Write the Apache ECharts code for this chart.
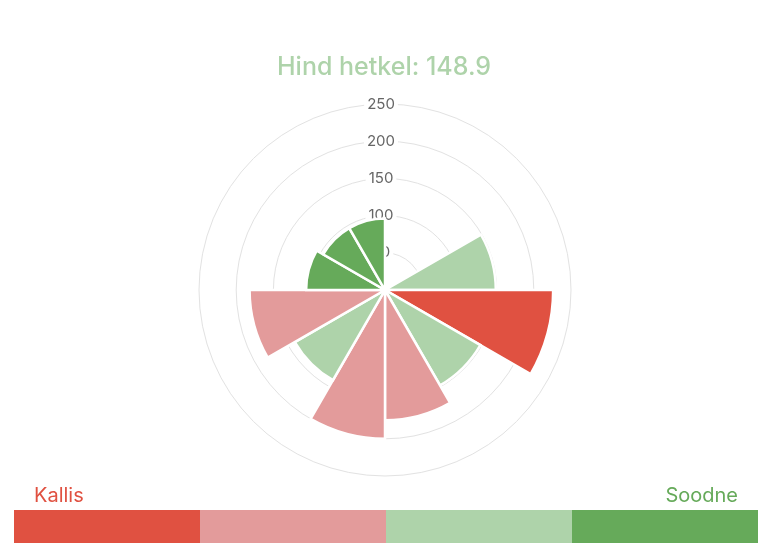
<!DOCTYPE html>
<html>
<head>
<meta charset="utf-8">
<script src="https://cdn.jsdelivr.net/npm/echarts@6/dist/echarts.min.js"></script>
<style>
  html, body { margin: 0; padding: 0; background: #fff; }
  #chart { width: 768px; height: 560px; }
</style>
</head>
<body>
<div id="chart"></div>
<script>
// ---- data ----
const hours = ['00', '01', '02', '03', '04', '05', '06', '07', '08', '09', '10', '11'];
const prices = [null, null, 148.9, 226, 148, 175, 200, 140, 182, 106, 96, 96];
const currentPrice = 148.9;
const radiusTicks = [0, 50, 100, 150, 200, 250];
const levelNames = ['Kallis', 'Soodne'];
const levelColors = ['#e05141', '#e39b9b', '#aed3aa', '#66aa5a'];
const levelBounds = [210, 150, 110]; // thresholds between colour levels

const FONT = 'Inter, "Liberation Sans", sans-serif';

const chart = echarts.init(document.getElementById('chart'), null, { renderer: 'canvas' });

const option = {
  backgroundColor: '#fff',
  animation: false,
  title: {
    text: 'Hind hetkel: ' + currentPrice,
    left: 'center',
    top: 50,
    textStyle: { color: levelColors[2], fontSize: 25, fontWeight: 500, fontFamily: FONT }
  },
  polar: {
    center: [385, 290],
    radius: 186
  },
  angleAxis: {
    type: 'category',
    data: hours,
    startAngle: 90,
    clockwise: true,
    axisLine: { show: false },
    axisTick: { show: false },
    axisLabel: { show: false },
    splitLine: { show: false }
  },
  radiusAxis: {
    type: 'value',
    min: radiusTicks[0],
    max: radiusTicks[radiusTicks.length - 1],
    interval: 50,
    axisLine: { show: false },
    axisTick: { show: false },
    splitLine: { show: true, lineStyle: { color: '#e2e2e2', width: 1 } },
    axisLabel: {
      color: '#666',
      fontSize: 15,
      fontFamily: FONT,
      align: 'center',
      verticalAlign: 'middle',
      margin: 4,
      backgroundColor: '#fff',
      padding: [0, 3]
    }
  },
  visualMap: {
    type: 'piecewise',
    orient: 'horizontal',
    inverse: true,
    dimension: 0,
    seriesIndex: 0,
    left: -1,
    top: 495,
    itemWidth: 186,
    itemHeight: 33,
    itemGap: 0,
    itemSymbol: 'rect',
    showLabel: false,
    selectedMode: false,
    hoverLink: false,
    pieces: [
      { gt: levelBounds[0], color: levelColors[0] },
      { gt: levelBounds[1], lte: levelBounds[0], color: levelColors[1] },
      { gt: levelBounds[2], lte: levelBounds[1], color: levelColors[2] },
      { lte: levelBounds[2], color: levelColors[3] }
    ]
  },
  graphic: [
    {
      type: 'text', left: 34, top: 486,
      style: { text: levelNames[0], fill: levelColors[0], font: '20px ' + FONT }
    },
    {
      type: 'text', right: 30, top: 486,
      style: { text: levelNames[1], fill: levelColors[3], font: '20px ' + FONT }
    }
  ],
  series: [{
    type: 'bar',
    coordinateSystem: 'polar',
    data: prices,
    barCategoryGap: '0%',
    itemStyle: { borderColor: '#fff', borderWidth: 2.5 }
  }]
};

chart.setOption(option);
</script>
</body>
</html>
